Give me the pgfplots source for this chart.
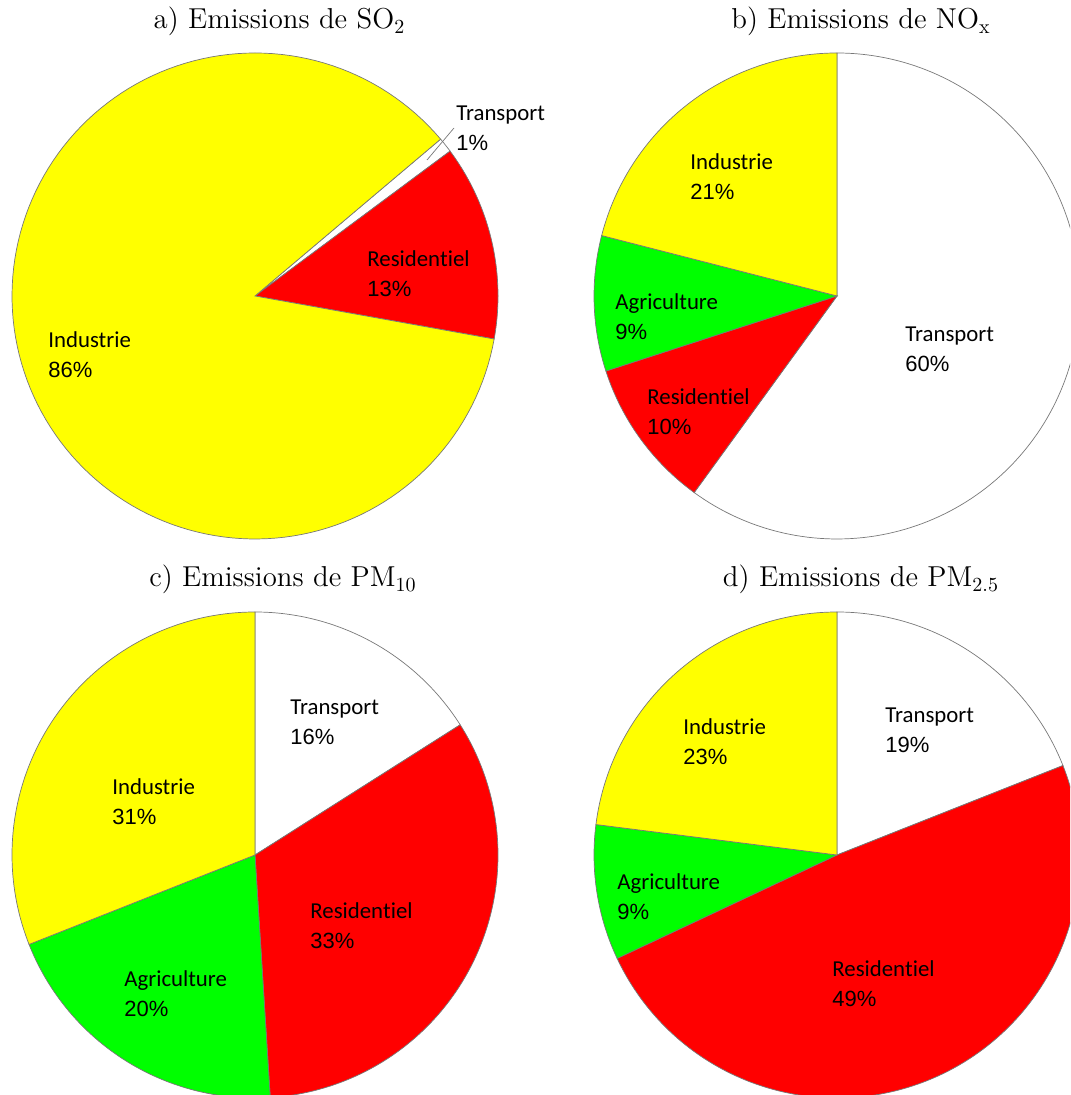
\documentclass[border=0pt]{standalone}
\usepackage{pgfplots}
\pgfplotsset{compat=1.18}
\usepackage{fontspec}
\newfontfamily\lab[Ligatures=NoCommon]{Carlito}
\newfontfamily\num{Liberation Sans}
\definecolor{pyel}{RGB}{255,255,0}
\definecolor{pred}{RGB}{255,0,0}
\definecolor{pgrn}{RGB}{0,255,0}
\definecolor{edge}{RGB}{120,120,120}
% #1 cx, #2 cy, #3 start angle, #4 cumulative percent before, #5 percent, #6 colour
\newcommand{\pieslice}[6]{%
  \addplot[fill=#6, draw=edge, line width=0.35pt, samples=150, variable=\t,
    domain={#3-3.6*(#4+#5)}:{#3-3.6*(#4)}]
    ({#1+243*cos(\t)},{#2+243*sin(\t)}) -- (axis cs:#1,#2) -- cycle;
}
% label: x, baseline (pixel from top), name, percent
\newcommand{\plab}[4]{%
  \node[anchor=base west, inner sep=0pt, font=\lab\fontsize{11.4}{13}\selectfont] at (axis cs:#1,{1095-#2}) {#3};
  \node[anchor=base west, inner sep=0pt, font=\num\fontsize{11}{13}\selectfont] at (axis cs:#1,{1095-#2-29.5}) {#4\%};
}
\newcommand{\ttl}[3]{%
  \node[anchor=base, inner sep=0pt, font=\fontsize{14.4}{17}\selectfont] at (axis cs:#1,{1095-#2}) {#3};
}
\newcommand{\Res}{Residen\kern0pt t\kern0pt iel}
\begin{document}
\begin{tikzpicture}
\begin{axis}[
  at={(0,0)}, anchor=south west,
  scale only axis, width=535pt, height=547.5pt,
  xmin=0, xmax=1070, ymin=0, ymax=1095,
  hide axis, clip=true,
]
% a) SO2 : Transport 1, Residentiel 13, Industrie 86
\pieslice{255}{799}{40.2}{0}{1}{white}
\pieslice{255}{799}{40.2}{1}{13}{pred}
\pieslice{255}{799}{40.2}{14}{86}{pyel}
\addplot[edge, line width=0.35pt] coordinates {(427,935) (454,967)};
% b) NOx : Transport 60, Residentiel 10, Agriculture 9, Industrie 21
\pieslice{837}{799}{90}{0}{60}{white}
\pieslice{837}{799}{90}{60}{10}{pred}
\pieslice{837}{799}{90}{70}{9}{pgrn}
\pieslice{837}{799}{90}{79}{21}{pyel}
% c) PM10 : Transport 16, Residentiel 33, Agriculture 20, Industrie 31
\pieslice{255}{240}{90}{0}{16}{white}
\pieslice{255}{240}{90}{16}{33}{pred}
\pieslice{255}{240}{90}{49}{20}{pgrn}
\pieslice{255}{240}{90}{69}{31}{pyel}
% d) PM2.5 : Transport 19, Residentiel 49, Agriculture 9, Industrie 23
\pieslice{837}{240}{90}{0}{19}{white}
\pieslice{837}{240}{90}{19}{49}{pred}
\pieslice{837}{240}{90}{68}{9}{pgrn}
\pieslice{837}{240}{90}{77}{23}{pyel}
% labels
\plab{456}{121}{Transport}{1}
\plab{367}{267}{\Res}{13}
\plab{48}{348}{Industrie}{86}
\plab{690}{170}{Industrie}{21}
\plab{615}{310}{Agriculture}{9}
\plab{647}{405}{\Res}{10}
\plab{905}{342}{Transport}{60}
\plab{290}{715}{Transport}{16}
\plab{112}{795}{Industrie}{31}
\plab{310}{919}{\Res}{33}
\plab{124}{987}{Agriculture}{20}
\plab{885}{723}{Transport}{19}
\plab{683}{735}{Industrie}{23}
\plab{617}{890}{Agriculture}{9}
\plab{832}{977}{\Res}{49}
% titles
\ttl{279.5}{29}{a) Emissions de $\mathrm{SO_2}$}
\ttl{861}{29}{b) Emissions de $\mathrm{NO_x}$}
\ttl{283}{587}{c) Emissions de $\mathrm{PM_{10}}$}
\ttl{861}{587}{d) Emissions de $\mathrm{PM_{2.5}}$}
\end{axis}
\pgfresetboundingbox
\path (0,0) rectangle (535pt,547.5pt);
\end{tikzpicture}
\end{document}
